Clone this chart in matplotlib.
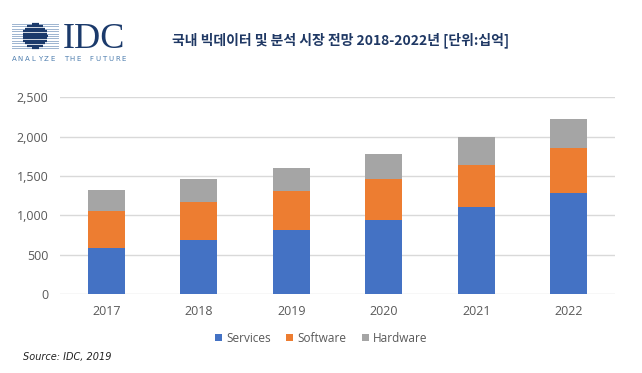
import matplotlib
matplotlib.use("Agg")
import matplotlib.pyplot as plt
import numpy as np

# data (십억 원)
years = ['2017', '2018', '2019', '2020', '2021', '2022']
services = [590, 690, 810, 945, 1100, 1285]
software = [465, 475, 495, 520, 545, 570]
hardware = [265, 295, 300, 320, 350, 365]
yticks = [0, 500, 1000, 1500, 2000, 2500]

title = '국내 빅데이터 및 분석 시장 전망 2018-2022년 [단위:십억]'
source = 'Source: IDC, 2019'

c_serv = '#4472C4'
c_soft = '#ED7D31'
c_hard = '#A5A5A5'
txt_gray = '#595959'
ui_font = ['Open Sans', 'DejaVu Sans']

W, H = 642, 373
fig = plt.figure(figsize=(W / 100, H / 100), dpi=100)
fig.patch.set_facecolor('white')

ax = fig.add_axes([60 / W, 1 - 294 / H, 555 / W, (294 - 97.3) / H])
x = np.arange(len(years))
bw = 0.405
serv = np.array(services)
soft = np.array(software)
hard = np.array(hardware)
ax.bar(x, serv, bw, color=c_serv, label='Services', zorder=3)
ax.bar(x, soft, bw, bottom=serv, color=c_soft, label='Software', zorder=3)
ax.bar(x, hard, bw, bottom=serv + soft, color=c_hard, label='Hardware', zorder=3)

ax.set_xlim(-0.5, len(years) - 0.5)
ax.set_ylim(0, 2500)
ax.set_yticks(yticks)
ax.set_yticklabels([f'{v:,}' for v in yticks])
ax.set_xticks(x)
ax.set_xticklabels(years)
for lab in ax.get_xticklabels() + ax.get_yticklabels():
    lab.set_family(ui_font)
ax.yaxis.grid(True, color='#D9D9D9', linewidth=1, zorder=0)
for s in ax.spines.values():
    s.set_visible(False)
ax.tick_params(length=0, labelsize=9, colors=txt_gray)
ax.tick_params(axis='y', pad=8.5)
ax.tick_params(axis='x', pad=8)

leg = fig.legend(loc='center', bbox_to_anchor=(321 / W, 1 - 338 / H), ncol=3,
                 frameon=False, prop={'family': ui_font, 'size': 8.5},
                 handlelength=0.6, handleheight=0.6,
                 handletextpad=0.35, columnspacing=1.3)
for t in leg.get_texts():
    t.set_color(txt_gray)

fig.text(23 / W, 1 - 357 / H, source, fontsize=7, style='italic',
         color='#222222', va='center', ha='left')

fig.text(172 / W, 1 - 40 / H, title, fontsize=10, fontweight='bold',
         color='#1F3864', va='center', ha='left',
         family=['Noto Sans CJK KR', 'DejaVu Sans'])

# IDC logo
logo = fig.add_axes([0, 0, 1, 1], zorder=5)
logo.set_xlim(0, W)
logo.set_ylim(H, 0)
logo.axis('off')
cx, cy, r = 35, 36, 12.5
navy = '#1B3A6B'
ys = np.linspace(24, 48, 11)
for yy in ys:
    logo.plot([12, 58], [yy, yy], color='#9DB4D0', lw=0.7)
    dy = yy - cy
    if abs(dy) < r:
        hw = np.sqrt(r * r - dy * dy)
        logo.plot([cx - hw, cx + hw], [yy, yy], color=navy, lw=1.6,
                  solid_capstyle='butt')
logo.text(63, 48, 'IDC', fontsize=26, family='Liberation Serif', color=navy,
          ha='left', va='baseline')
tag = 'ANALYZE THE FUTURE'
for i, ch in enumerate(tag):
    logo.text(14 + i * (110 / (len(tag) - 1)), 59, ch, fontsize=5,
              color='#4F7FAF', ha='center', va='center')

fig.savefig('out.png', dpi=100)
